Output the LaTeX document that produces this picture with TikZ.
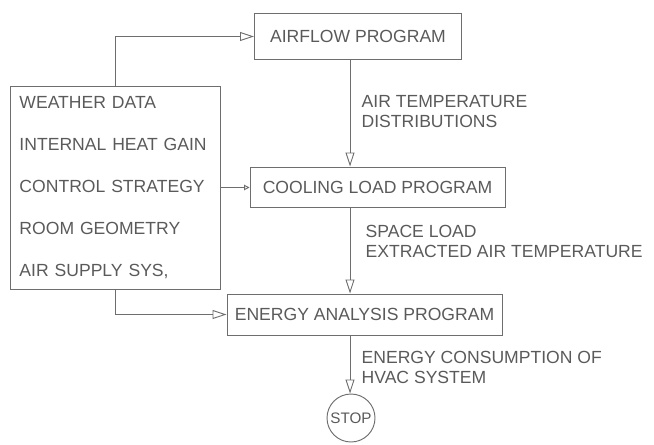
\documentclass[tikz,border=0pt]{standalone}
\usepackage{fontspec}
\setmainfont{Liberation Sans}
\usetikzlibrary{arrows.meta, positioning, calc}

\definecolor{inkline}{HTML}{6E6E6E}
\definecolor{inktext}{HTML}{5A5A5A}

\begin{document}
\begin{tikzpicture}[
    x=0.03cm, y=-0.03cm,
    every node/.style={font=\fontsize{15}{17}\selectfont, text=inktext},
    prog/.style={draw=inkline, line width=0.8pt, inner sep=0pt, align=center},
    inbox/.style={draw=inkline, line width=0.8pt, align=left, inner xsep=0.27cm,
        text width=5.76cm, minimum height=6.09cm},
    flowlab/.style={align=left, inner sep=1pt},
    flow/.style={draw=inkline, line width=0.8pt,
        -{Triangle[open, length=0.42cm, width=0.27cm]}},
    smallflow/.style={draw=inkline, line width=0.8pt,
        -{Triangle[open, length=0.16cm, width=0.16cm]}},
    stopnode/.style={draw=inkline, line width=0.8pt, circle, inner sep=0pt,
        minimum size=1.44cm, font=\fontsize{13}{15}\selectfont},
]
\useasboundingbox (0,0) rectangle (654,444);

% ===== PROGRAM BOXES =====
\node[prog, minimum width=6.21cm, minimum height=1.38cm] (airflow) at (358,36.5) {AIRFLOW PROGRAM};
\node[prog, minimum width=7.65cm, minimum height=1.2cm] (cooling) at (377.5,187) {COOLING LOAD PROGRAM};
\node[prog, minimum width=8.25cm, minimum height=1.23cm] (energy) at (364.5,314.5) {ENERGY ANALYSIS PROGRAM};
\node[stopnode] (stop) at (351,418) {STOP};

% Input data box
\node[inbox] (input) at (115.5,187.5)
    {WEATHER DATA\\[19pt]
     INTERNAL HEAT GAIN\\[19pt]
     CONTROL STRATEGY\\[19pt]
     ROOM GEOMETRY\\[19pt]
     AIR SUPPLY SYS,};

% Main vertical line
\coordinate (spine) at (350,0);

% ===== CONNECTORS =====
\draw[flow] (input.north) |- (airflow.west);
\draw[smallflow] (input.east) -- (input.east -| cooling.west);
\draw[flow] (input.south) |- (energy.west);

\draw[flow] (airflow.south -| spine) -- node[flowlab, pos=0.48, right=0.3cm]
    {AIR TEMPERATURE\\DISTRIBUTIONS} (cooling.north -| spine);
\draw[flow] (cooling.south -| spine) -- node[flowlab, pos=0.4, right=0.42cm]
    {SPACE LOAD\\EXTRACTED AIR TEMPERATURE} (energy.north -| spine);
\draw[flow] (energy.south -| spine) -- node[flowlab, pos=0.55, right=0.3cm]
    {ENERGY CONSUMPTION OF\\HVAC SYSTEM} (stop.north -| spine);

\end{tikzpicture}
\end{document}
